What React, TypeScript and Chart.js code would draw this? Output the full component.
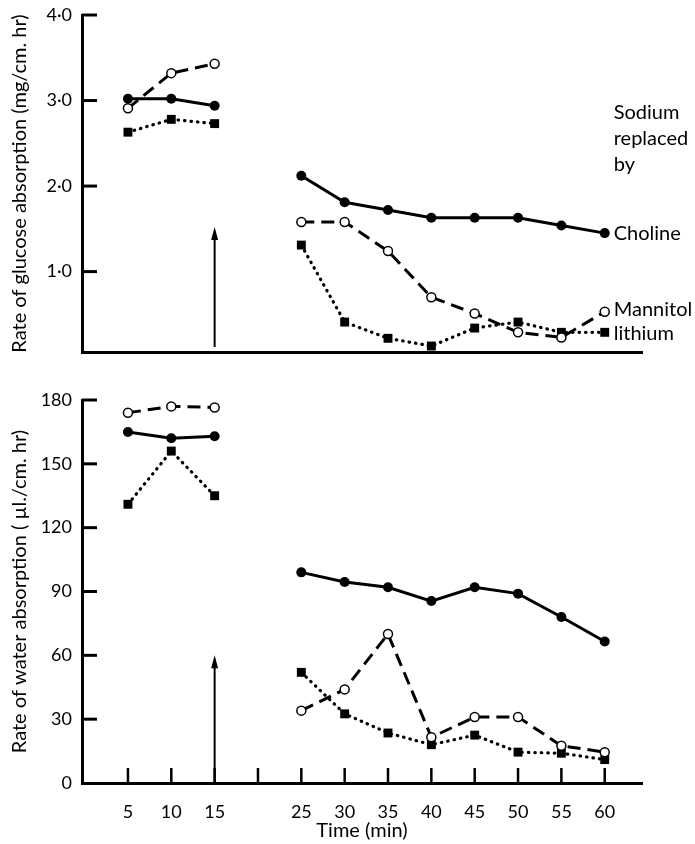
import React, { useEffect, useRef } from "react";
import { Chart, registerables } from "chart.js";
Chart.register(...registerables);

// Time (min); null at 20 min breaks the line between control and test periods
const times = [5, 10, 15, 20, 25, 30, 35, 40, 45, 50, 55, 60];
const xTickValues = [5, 10, 15, 20, 25, 30, 35, 40, 45, 50, 55, 60];
const xTickHidden = [20];

// Glucose absorption (mg/cm. hr)
const glucoseCholine = [3.02, 3.02, 2.94, null, 2.12, 1.81, 1.72, 1.63, 1.63, 1.63, 1.54, 1.45];
const glucoseMannitol = [2.91, 3.32, 3.43, null, 1.58, 1.58, 1.24, 0.7, 0.51, 0.29, 0.23, 0.53];
const glucoseLithium = [2.63, 2.78, 2.73, null, 1.31, 0.41, 0.22, 0.13, 0.34, 0.41, 0.29, 0.29];
const glucoseTicks = [1, 2, 3, 4];

// Water absorption (µl./cm. hr)
const waterCholine = [165, 162, 163, null, 99, 94.5, 92, 85.5, 92, 89, 78, 66.5];
const waterMannitol = [174, 177, 176.5, null, 34, 44, 70, 21.5, 31, 31, 17.5, 14.5];
const waterLithium = [131, 156, 135, null, 52, 32.5, 23.5, 18, 22.5, 14.5, 14, 11];
const waterTicks = [0, 30, 60, 90, 120, 150, 180];

// Arrow marking the change of perfusion fluid: [time, top value]
const glucoseArrow = [15, 1.52];
const waterArrow = [15, 60];

const headerLines = ["Sodium", "replaced", "by"];
const seriesNames = ["Choline", "Mannitol", "lithium"];

const FONT = "Lato, 'Open Sans', sans-serif";

function toPoints(arr: (number | null)[]) {
  return times.map((t, i) => ({ x: t, y: arr[i] }));
}

function makeDatasets(ch: (number | null)[], ma: (number | null)[], li: (number | null)[]) {
  return [
    {
      label: seriesNames[1],
      data: toPoints(ma),
      borderColor: "#000",
      borderWidth: 3,
      borderDash: [13, 7],
      pointStyle: "circle",
      pointRadius: 4.5,
      pointBorderWidth: 1.5,
      pointBackgroundColor: "#fff",
      pointBorderColor: "#000",
      spanGaps: false,
    },
    {
      label: seriesNames[0],
      data: toPoints(ch),
      borderColor: "#000",
      borderWidth: 3,
      pointStyle: "circle",
      pointRadius: 5,
      pointBorderWidth: 0,
      pointBackgroundColor: "#000",
      pointBorderColor: "#000",
      spanGaps: false,
    },
    {
      label: seriesNames[2],
      data: toPoints(li),
      borderColor: "#000",
      borderWidth: 3.2,
      borderDash: [0.5, 6],
      borderCapStyle: "round",
      pointStyle: "rect",
      pointRadius: 6.3,
      pointBorderWidth: 0,
      pointBackgroundColor: "#000",
      pointBorderColor: "#000",
      spanGaps: false,
    },
  ];
}

const insideTicks = {
  id: "insideTicks",
  afterDraw(chart: any, _args: any, opts: any) {
    const { ctx, chartArea } = chart;
    const xs = chart.scales.x;
    const ys = chart.scales.y;
    ctx.save();
    ctx.strokeStyle = "#000";
    ctx.lineWidth = 3;
    for (const v of opts.yTicks || []) {
      const py = ys.getPixelForValue(v);
      ctx.beginPath();
      ctx.moveTo(chartArea.left, py);
      ctx.lineTo(chartArea.left + 15, py);
      ctx.stroke();
    }
    ctx.lineWidth = 2.5;
    for (const v of opts.xTicks || []) {
      const px = xs.getPixelForValue(v);
      ctx.beginPath();
      ctx.moveTo(px, chartArea.bottom);
      ctx.lineTo(px, chartArea.bottom - 15);
      ctx.stroke();
    }
    // arrow
    if (opts.arrow) {
      const ax = xs.getPixelForValue(opts.arrow[0]);
      const y0 = chartArea.bottom - (opts.arrowGap || 0);
      const y1 = ys.getPixelForValue(opts.arrow[1]);
      ctx.lineWidth = 2;
      ctx.beginPath();
      ctx.moveTo(ax, y0);
      ctx.lineTo(ax, y1 + 10);
      ctx.stroke();
      ctx.fillStyle = "#000";
      ctx.beginPath();
      ctx.moveTo(ax, y1);
      ctx.lineTo(ax - 3.5, y1 + 13);
      ctx.lineTo(ax + 3.5, y1 + 13);
      ctx.closePath();
      ctx.fill();
    }
    // series labels
    if (opts.labels) {
      ctx.fillStyle = "#000";
      ctx.font = `20px ${FONT}`;
      ctx.textBaseline = "middle";
      ctx.textAlign = "left";
      const lx = xs.getPixelForValue(times[times.length - 1]) + 9;
      headerLines.forEach((t, i) => ctx.fillText(t, lx, chartArea.top + 98 + i * 26));
      const lasts = [glucoseCholine, glucoseMannitol, glucoseLithium].map((a) => a[a.length - 1] as number);
      const offs = [0, -2, 1];
      seriesNames.forEach((n, i) => ctx.fillText(n, lx, ys.getPixelForValue(lasts[i]) + offs[i]));
    }
    ctx.restore();
  },
};

function baseOptions(kind: "top" | "bottom") {
  const top = kind === "top";
  return {
    responsive: false,
    animation: false,
    devicePixelRatio: 1,
    layout: { padding: top ? { top: 15, right: 53, bottom: 18, left: 0 } : { top: 30, right: 53, bottom: 0, left: 0 } },
    plugins: {
      legend: { display: false },
      tooltip: { enabled: false },
      insideTicks: top
        ? { yTicks: glucoseTicks, xTicks: [], arrow: glucoseArrow, arrowGap: 5, labels: true }
        : { yTicks: waterTicks.filter((v) => v !== 0), xTicks: xTickValues, arrow: waterArrow, arrowGap: 0, labels: false },
    },
    scales: {
      x: {
        type: "linear",
        min: -0.3,
        max: 64.3,
        grid: { display: false },
        border: { display: true, width: 3, color: "#000" },
        afterBuildTicks: (s: any) => {
          s.ticks = xTickValues.map((v) => ({ value: v }));
        },
        afterFit: (s: any) => {
          s.height = top ? 0 : 61;
        },
        ticks: {
          display: !top,
          color: "#000",
          padding: 10,
          maxRotation: 0,
          autoSkip: false,
          font: { family: FONT, size: 18 },
          callback: (v: number) => (xTickHidden.includes(v) ? "" : String(v)),
        },
        title: {
          display: !top,
          text: "Time (min)",
          color: "#000",
          font: { family: FONT, size: 20 },
          padding: { top: 0, bottom: 1 },
        },
      },
      y: {
        type: "linear",
        min: top ? 0.06 : 0,
        max: top ? 4.0 : 180,
        grid: { display: false },
        border: { display: true, width: 3, color: "#000" },
        afterBuildTicks: (s: any) => {
          s.ticks = (top ? glucoseTicks : waterTicks).map((v) => ({ value: v }));
        },
        afterFit: (s: any) => {
          s.width = 82;
        },
        ticks: {
          color: "#000",
          padding: 2,
          font: { family: FONT, size: 18 },
          callback: (v: number) => (top ? v.toFixed(1).replace(".", "·") : String(v)),
        },
        title: {
          display: true,
          text: top ? "Rate of glucose absorption (mg/cm. hr)" : "Rate of water absorption ( µl./cm. hr)",
          color: "#000",
          font: { family: FONT, size: 20 },
          padding: { top: 8, bottom: 0 },
        },
      },
    },
  };
}

export default function App() {
  const topRef = useRef<HTMLCanvasElement>(null);
  const botRef = useRef<HTMLCanvasElement>(null);

  useEffect(() => {
    document.body.style.margin = "0";
    const c1 = new Chart(topRef.current as HTMLCanvasElement, {
      type: "line",
      data: { datasets: makeDatasets(glucoseCholine, glucoseMannitol, glucoseLithium) as any },
      options: baseOptions("top") as any,
      plugins: [insideTicks],
    });
    const c2 = new Chart(botRef.current as HTMLCanvasElement, {
      type: "line",
      data: { datasets: makeDatasets(waterCholine, waterMannitol, waterLithium) as any },
      options: baseOptions("bottom") as any,
      plugins: [insideTicks],
    });
    return () => {
      c1.destroy();
      c2.destroy();
    };
  }, []);

  return (
    <div style={{ width: 695, height: 844, background: "#fff" }}>
      <canvas ref={topRef} width={695} height={370} style={{ display: "block" }} />
      <canvas ref={botRef} width={695} height={474} style={{ display: "block" }} />
    </div>
  );
}
